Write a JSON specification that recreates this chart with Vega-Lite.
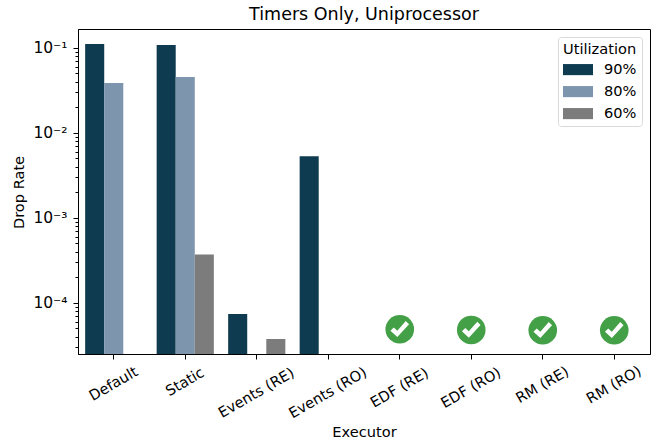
{
"$schema":"https://vega.github.io/schema/vega-lite/v6.json",
"width":572,"height":325,
"autosize":{"type":"none"},
"padding":{"left":78,"top":29,"right":8,"bottom":91},
"background":"white",
"title":{"text":"Timers Only, Uniprocessor","font":"DejaVu Sans","fontSize":17.5,"fontWeight":"normal","color":"black","anchor":"middle","offset":6},
"config":{"view":{"stroke":"black","strokeWidth":1},"font":"DejaVu Sans"},
"datasets":{
"bars":[
{"executor":"Default","utilization":"90%","rate":0.1105},
{"executor":"Default","utilization":"80%","rate":0.0384},
{"executor":"Static","utilization":"90%","rate":0.1075},
{"executor":"Static","utilization":"80%","rate":0.0452},
{"executor":"Static","utilization":"60%","rate":0.00037},
{"executor":"Events (RE)","utilization":"90%","rate":0.0000736},
{"executor":"Events (RE)","utilization":"60%","rate":0.0000374},
{"executor":"Events (RO)","utilization":"90%","rate":0.0053}
],
"checks":[
{"executor":"EDF (RE)","rate":0.0000487},
{"executor":"EDF (RO)","rate":0.0000478},
{"executor":"RM (RE)","rate":0.0000474},
{"executor":"RM (RO)","rate":0.0000474}
]},
"layer":[
{"data":{"name":"bars"},
"mark":{"type":"bar","clip":true},
"encoding":{
"x":{"field":"executor","type":"nominal","title":"Executor",
"scale":{"domain":["Default","Static","Events (RE)","Events (RO)","EDF (RE)","EDF (RO)","RM (RE)","RM (RO)"],"paddingInner":0.2,"paddingOuter":0.1},
"axis":{"labelAngle":-30,"labelAlign":"center","labelBaseline":"middle","labelFontSize":14.6,"labelColor":"black","labelFont":"DejaVu Sans","labelOverlap":false,"labelBound":false,"labelFlush":false,
"labelPadding":{"condition":[{"test":"datum.value=='Default'","value":25},{"test":"datum.value=='Static'","value":23},{"test":"indexof(datum.value,'Events')==0","value":34},{"test":"indexof(datum.value,'EDF')==0","value":29}],"value":26},
"tickSize":5,"tickColor":"black","tickWidth":1,"domainColor":"black","domainWidth":1,"titleFont":"DejaVu Sans","titleFontSize":14.6,"titleFontWeight":"normal","titleColor":"black","titleY":78,"titleX":286,"titleBaseline":"middle"}},
"xOffset":{"field":"utilization","type":"nominal","scale":{"domain":["90%","80%","60%"],"paddingInner":0,"paddingOuter":0}},
"y":{"field":"rate","type":"quantitative","title":"Drop Rate","stack":null,
"scale":{"type":"log","domain":[0.0000249,0.166],"nice":false},
"axis":{"grid":false,"values":[0.00003,0.00004,0.00005,0.00006,0.00007,0.00008,0.00009,0.0001,0.0002,0.0003,0.0004,0.0005,0.0006,0.0007,0.0008,0.0009,0.001,0.002,0.003,0.004,0.005,0.006,0.007,0.008,0.009,0.01,0.02,0.03,0.04,0.05,0.06,0.07,0.08,0.09,0.1],
"labelExpr":"datum.value==0.1?'10⁻¹':datum.value==0.01?'10⁻²':datum.value==0.001?'10⁻³':datum.value==0.0001?'10⁻⁴':''",
"tickSize":{"condition":{"test":"datum.value==0.1||datum.value==0.01||datum.value==0.001||datum.value==0.0001","value":5},"value":3},
"tickColor":"black","tickWidth":1,"domainColor":"black","domainWidth":1,"labelFontSize":15.5,"labelColor":"black","labelFont":"DejaVu Sans","labelOverlap":false,"labelBound":false,"labelFlush":false,"labelPadding":6,"titleFont":"DejaVu Sans","titleFontSize":14.6,"titleFontWeight":"normal","titleColor":"black","titleX":-59,"titleY":163,"titleAngle":-90,"titleBaseline":"middle"}},
"color":{"field":"utilization","type":"nominal",
"scale":{"domain":["90%","80%","60%"],"range":["#0f3b50","#7e95ae","#7c7c7c"]},
"legend":{"orient":"none","legendX":480,"legendY":8,"title":"Utilization","titleFont":"DejaVu Sans","titleFontSize":14.6,"titleFontWeight":"normal","titleColor":"black","titlePadding":-2,"labelFont":"DejaVu Sans","labelFontSize":14.6,"labelColor":"black","labelOffset":11,"rowPadding":-8.5,"symbolType":"M-1,-0.37H1V0.37H-1Z","symbolSize":900,"symbolStrokeWidth":0,"symbolOpacity":1,"fillColor":"white","strokeColor":"#d9d9d9","cornerRadius":3,"padding":5,"symbolOffset":0}}
}},
{"data":{"name":"checks"},
"mark":{"type":"point","shape":"circle","filled":true,"fill":"#43a047","stroke":null,"opacity":1,"size":818},
"encoding":{"x":{"field":"executor","type":"nominal"},"y":{"field":"rate","type":"quantitative"}}},
{"data":{"name":"checks"},
"mark":{"type":"point","shape":"M-0.65,0.1L-0.42,-0.13L-0.17,0.1L0.42,-0.58L0.65,-0.35L-0.17,0.55Z","filled":true,"fill":"white","stroke":null,"opacity":1,"size":818},
"encoding":{"x":{"field":"executor","type":"nominal"},"y":{"field":"rate","type":"quantitative"}}}
]
}
